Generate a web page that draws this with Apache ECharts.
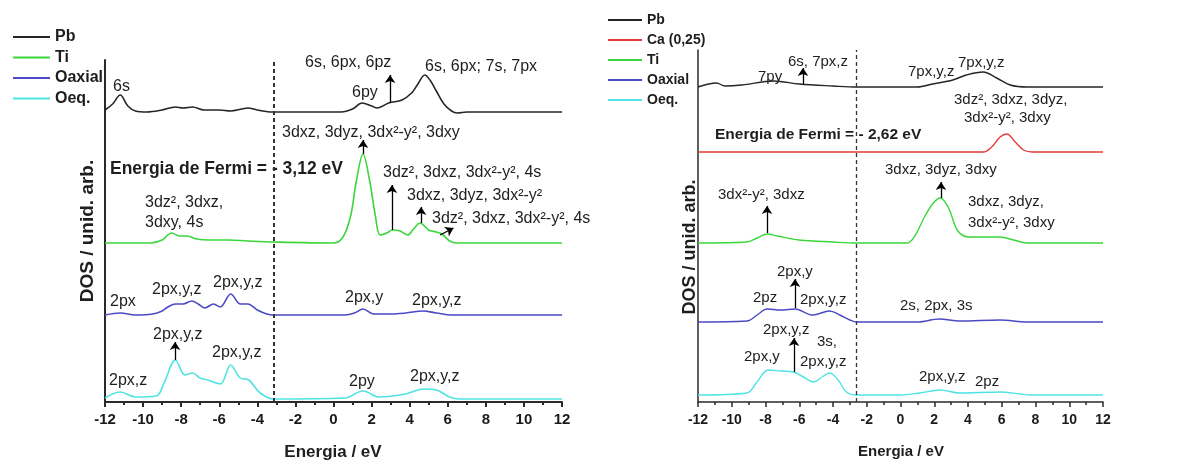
<!DOCTYPE html>
<html><head><meta charset="utf-8">
<script src="https://cdn.jsdelivr.net/npm/echarts@6/dist/echarts.min.js"></script>
<style>html,body{margin:0;padding:0;background:#fff}#c{width:1199px;height:464px}</style>
</head><body><div id="c"></div>
<script>
// ---------- data ----------
const xTicks = [-12,-10,-8,-6,-4,-2,0,2,4,6,8,10,12];
const fermiLeft = -3.12;
const fermiRight = -2.62;
const legendLeft = ['Pb','Ti','Oaxial','Oeq.'];
const legendRight = ['Pb','Ca (0,25)','Ti','Oaxial','Oeq.'];

// left panel (DOS, arb. units)
const L_Pb = [[-12,2],[-11.6,8],[-11.2,17],[-10.8,6],[-10.4,1],[-9.8,0],[-9,2],[-8.3,5],[-7.9,4],[-7.4,5],[-6.8,2],[-6,2],[-5.4,1],[-4.8,3],[-4.5,4],[-4,2],[-3.2,0],[0.4,0],[1.0,3],[1.5,9],[2.0,6],[2.3,4],[2.9,9],[3.6,12],[4.1,19],[4.4,27],[4.8,37],[5.1,31],[5.4,21],[5.8,8],[6.2,1],[6.5,-1],[7.0,0],[12,0]];
const L_Ti = [[-12,0],[-9.6,0],[-9.0,3],[-8.5,10],[-8.1,7],[-7.7,7],[-7.2,4],[-6.5,3],[-5.5,3],[-4.5,2],[-3.2,1],[0,0],[0.5,6],[0.9,27],[1.2,62],[1.55,89],[1.9,62],[2.2,27],[2.45,8],[2.8,10],[3.1,13],[3.5,12],[3.9,8],[4.2,14],[4.55,20],[5.0,13],[5.4,11],[5.7,9],[6.1,2],[6.5,0],[12,0]];
const L_Oax = [[-12,0],[-11.2,2],[-10.4,0],[-9.5,1],[-9.0,4],[-8.7,8],[-8.3,11],[-7.9,11],[-7.45,14],[-7.1,11],[-6.75,7],[-6.3,11],[-5.95,8],[-5.4,21],[-5.0,12],[-4.85,11],[-4.5,11],[-4.0,5],[-3.5,1],[-3.15,0],[0.6,0],[1.1,2],[1.55,6],[2.1,1],[3,1],[3.8,2],[4.7,4],[5.4,2],[6.2,0],[12,0]];
const L_Oeq = [[-12,1],[-11.2,7],[-10.4,2],[-9.3,3],[-8.9,16],[-8.3,39],[-7.8,24],[-7.4,26],[-7.0,21],[-6.6,19],[-5.95,15],[-5.4,34],[-4.9,21],[-4.45,19],[-3.85,6],[-3.15,0],[0.6,1],[1.55,8],[2.4,2],[3.8,5],[4.7,10],[5.4,9],[6.1,2],[6.6,0],[12,0]];

// right panel
const R_Pb = [[-12,0],[-10.9,4],[-10.4,1],[-9.4,2],[-7.5,6],[-6,3],[-4,1],[-2.6,0],[1.0,0],[1.9,3],[3.1,7],[3.9,12],[4.9,15],[5.7,9],[6.5,2],[7.5,0],[12,0]];
const R_Ca = [[-12,0],[4.9,0],[5.4,5],[5.9,15],[6.3,18],[6.8,10],[7.3,2],[7.8,0],[12,0]];
const R_Ti = [[-12,0],[-9.1,1],[-8.5,5],[-7.9,9],[-7.3,7],[-6,3],[-4,1],[-2.6,0],[0.4,0],[0.85,7],[1.45,27],[1.95,40],[2.35,45],[2.85,35],[3.4,12],[4.1,6],[5.9,6],[6.7,3],[7.5,0],[12,0]];
const R_Oax = [[-12,0],[-9.1,1],[-8.5,7],[-7.9,13],[-7.1,12],[-6.25,13],[-5.2,7],[-4.2,11],[-3.6,7],[-3.0,2],[-2.6,0],[1.0,0],[2.3,3],[3.5,1],[5.9,2],[7.5,0],[12,0]];
const R_Oeq = [[-12,0],[-9.1,2],[-8.5,13],[-7.85,25],[-7.1,24],[-6.35,23],[-5.75,18],[-5.15,13],[-4.65,18],[-4.2,22],[-3.7,15],[-3.2,3],[-2.6,0],[0,0],[1.15,2],[2.35,5],[3.5,2],[5.9,3],[7.1,1],[7.7,0],[12,0]];

// arrows: [energy, fromDOS, toDOS] (or [e0,y0,e1,y1] for oblique)
const L_Pb_arrows = [[2.97,9,37]];
const L_Ti_arrows = [[1.55,89,103],[3.07,13,58],[4.6,20,36]];
const L_Ti_oblique = [[5.6,8,6.3,15]];
const L_Oeq_arrows = [[-8.32,39,57]];
const R_Pb_arrows = [[-5.78,3,19]];
const R_Ti_arrows = [[2.4,45,61],[-7.91,10,37]];
const R_Oax_arrows = [[-6.25,14,43]];
const R_Oeq_arrows = [[-6.31,23,57]];

// annotation texts
const L_texts = ['6s','6s, 6px, 6pz','6s, 6px; 7s, 7px','6py','3dxz, 3dyz, 3dx²-y², 3dxy','3dz², 3dxz, 3dx²-y², 4s','3dz², 3dxz,','3dxy, 4s','3dxz, 3dyz, 3dx²-y²','3dz², 3dxz, 3dx²-y², 4s','2px','2px,y,z','2px,y,z','2px,y','2px,y,z','2px,y,z','2px,y,z','2px,z','2py','2px,y,z'];
const R_texts = ['6s, 7px,z','7py','7px,y,z','7px,y,z','3dz², 3dxz, 3dyz,','3dx²-y², 3dxy','3dxz, 3dyz, 3dxy','3dx²-y², 3dxz','3dxz, 3dyz,','3dx²-y², 3dxy','2px,y','2pz','2px,y,z','2s, 2px, 3s','2px,y,z','3s,','2px,y','2px,y,z','2px,y,z','2pz'];
const fermiTextLeft = 'Energia de Fermi = - 3,12 eV';
const fermiTextRight = 'Energia de Fermi = - 2,62 eV';
const xName = 'Energia / eV';
const yName = 'DOS / unid. arb.';

// ---------- layout ----------
const LF = {left:105, width:457, top:60, bottom:402};
const RF = {left:698, width:405, top:50, bottom:402};
const L_pos = [[113,87],[305,63],[425,67],[352,93],[282,133],[383,173],[145,203],[145,223],[407,196],[432,219],[110,302],[152,290],[213,283],[345,298],[412,301],[153,335],[212,353],[109,381],[349,382],[410,377]];
const R_pos = [[788,62],[758,77],[908,72],[958,63],[954,100],[964,118],[885,170],[718,195],[968,202],[968,223],[777,272],[753,298],[800,300],[900,306],[763,330],[817,342],[744,357],[800,362],[919,377],[975,382]];

const colors = {Pb:'#262626', Ca:'#e53a3a', Ti:'#3bd63b', Oax:'#4a4ac4', Oeq:'#4fe3e3'};

const grids = [
  {left:LF.left, width:LF.width, top:LF.top, height:LF.bottom-LF.top},
  {left:RF.left, width:RF.width, top:RF.top, height:RF.bottom-RF.top}
];
const xAxes = [], yAxes = [];
function frameAxes(fs, margin, lw){
  xAxes.push({type:'value', gridIndex:xAxes.length, min:-12, max:12, interval:2,
    axisLine:{onZero:false, lineStyle:{color:'#2a2a2a', width:lw}},
    axisTick:{inside:false, length:5, lineStyle:{color:'#2a2a2a', width:lw}},
    minorTick:{show:true, splitNumber:2, length:3, lineStyle:{color:'#2a2a2a', width:lw}},
    splitLine:{show:false},
    axisLabel:{margin:margin, color:'#1a1a1a', fontSize:fs, fontWeight:'bold', fontFamily:'Liberation Sans, Arial',
      formatter: v => xTicks.includes(v) ? String(v) : ''}});
  yAxes.push({type:'value', gridIndex:yAxes.length, min:0, max:1,
    axisLine:{show:true, onZero:false, lineStyle:{color:'#2a2a2a', width:lw}},
    axisTick:{show:false}, axisLabel:{show:false}, splitLine:{show:false}});
}
frameAxes(15, 10, 2);
frameAxes(14, 11, 1.5);

const series = [];
function curve(frame, baseline, h, name, data, color, arrows, oblique, lw){
  const gi = grids.length;
  grids.push({left:frame.left, width:frame.width, top:baseline-h, height:h});
  xAxes.push({type:'value', gridIndex:gi, min:-12, max:12, show:false});
  yAxes.push({type:'value', gridIndex:gi, min:0, max:h, show:false});
  const ml = [];
  (arrows||[]).forEach(a => ml.push([{coord:[a[0],a[1]]},{coord:[a[0],a[2]]}]));
  (oblique||[]).forEach(a => ml.push([{coord:[a[0],a[1]]},{coord:[a[2],a[3]]}]));
  series.push({type:'line', name:name, xAxisIndex:gi, yAxisIndex:gi, data:data, smooth:0.35,
    showSymbol:false, clip:false, silent:true, color:color,
    lineStyle:{color:color, width:lw},
    markLine: ml.length ? {silent:true, symbol:['none','arrow'], symbolSize:8, precision:4,
      label:{show:false}, itemStyle:{color:'#000'}, lineStyle:{color:'#000', width:1.3, type:'solid'}, data:ml} : undefined});
}
curve(LF,112,50,'Pb',L_Pb,colors.Pb,L_Pb_arrows,null,1.6);
curve(LF,243,110,'Ti',L_Ti,colors.Ti,L_Ti_arrows,L_Ti_oblique,1.6);
curve(LF,315,35,'Oaxial',L_Oax,colors.Oax,null,null,1.6);
curve(LF,399,60,'Oeq.',L_Oeq,colors.Oeq,L_Oeq_arrows,null,1.6);
curve(RF,87,25,'Pb',R_Pb,colors.Pb,R_Pb_arrows,null,1.4);
curve(RF,152,25,'Ca (0,25)',R_Ca,colors.Ca,null,null,1.4);
curve(RF,243,65,'Ti',R_Ti,colors.Ti,R_Ti_arrows,null,1.4);
curve(RF,322,45,'Oaxial',R_Oax,colors.Oax,R_Oax_arrows,null,1.4);
curve(RF,395,60,'Oeq.',R_Oeq,colors.Oeq,R_Oeq_arrows,null,1.4);

function fermi(idx, e, w, dash){
  series.push({type:'line', name:'fermi'+idx, xAxisIndex:idx, yAxisIndex:idx, data:[[e,0]], showSymbol:false, silent:true,
    lineStyle:{width:0},
    markLine:{silent:true, symbol:'none', label:{show:false},
      lineStyle:{color:'#333', width:w, type:dash}, data:[{xAxis:e}]}});
}
fermi(0, fermiLeft, 2, [4,3]);
fermi(1, fermiRight, 1.3, [4,3]);

const graphic = [];
function txt(t, x, y, fs, bold){
  graphic.push({type:'text', x:x, y:y, silent:true,
    style:{text:t, fill:'#1e1e1e', font:(bold?'bold ':'')+fs+'px "Liberation Sans", Arial, sans-serif',
      textAlign:'left', textVerticalAlign:'middle', align:'left', verticalAlign:'middle'}});
}
L_texts.forEach((t,i)=>txt(t, L_pos[i][0], L_pos[i][1], 16, false));
R_texts.forEach((t,i)=>txt(t, R_pos[i][0], R_pos[i][1], 15, false));
txt(fermiTextLeft, 110, 169, 17.5, true);
txt(fermiTextRight, 715, 135, 15.5, true);
function ctext(t, x, y, fs, rot){
  graphic.push({type:'text', x:x, y:y, rotation:rot||0, silent:true,
    style:{text:t, fill:'#1e1e1e', font:'bold '+fs+'px "Liberation Sans", Arial, sans-serif',
      textAlign:'center', textVerticalAlign:'middle', align:'center', verticalAlign:'middle'}});
}
ctext(xName, 333, 452, 17, 0);
ctext(xName, 901, 452, 15, 0);
ctext(yName, 88, 231, 19, Math.PI/2);
ctext(yName, 690, 247, 18, Math.PI/2);

const option = {
  animation:false,
  backgroundColor:'#fff',
  grid:grids, xAxis:xAxes, yAxis:yAxes, series:series, graphic:graphic,
  legend:[
    {data:legendLeft, orient:'vertical', left:8, top:24, icon:'rect', itemWidth:37, itemHeight:2, itemGap:4.5,
      selectedMode:false, textStyle:{fontSize:16, fontWeight:'bold', color:'#1e1e1e', lineHeight:16, fontFamily:'Liberation Sans, Arial'}},
    {data:legendRight, orient:'vertical', left:603, top:7, icon:'rect', itemWidth:34, itemHeight:2, itemGap:4,
      selectedMode:false, textStyle:{fontSize:14, fontWeight:'bold', color:'#1e1e1e', lineHeight:16, fontFamily:'Liberation Sans, Arial'}}
  ]
};
const chart = echarts.init(document.getElementById('c'), null, {renderer:'canvas'});
chart.setOption(option);
</script></body></html>
